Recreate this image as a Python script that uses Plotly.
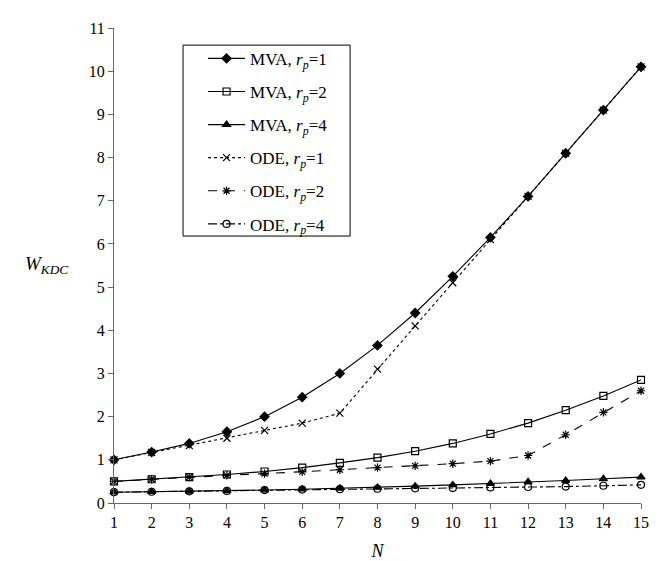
import plotly.graph_objects as go

N = list(range(1, 16))
mva_rp1 = [1.0, 1.18, 1.38, 1.65, 2.0, 2.45, 3.0, 3.65, 4.4, 5.25, 6.15, 7.1, 8.1, 9.1, 10.1]
mva_rp2 = [0.5, 0.55, 0.6, 0.66, 0.73, 0.82, 0.93, 1.05, 1.2, 1.38, 1.6, 1.85, 2.15, 2.48, 2.85]
mva_rp4 = [0.25, 0.26, 0.27, 0.28, 0.3, 0.32, 0.34, 0.36, 0.39, 0.42, 0.45, 0.49, 0.52, 0.56, 0.6]
ode_rp1 = [1.0, 1.17, 1.33, 1.5, 1.68, 1.85, 2.08, 3.1, 4.1, 5.1, 6.1, 7.1, 8.1, 9.1, 10.1]
ode_rp2 = [0.5, 0.55, 0.6, 0.64, 0.68, 0.72, 0.77, 0.82, 0.86, 0.91, 0.97, 1.1, 1.58, 2.1, 2.6]
ode_rp4 = [0.25, 0.26, 0.27, 0.28, 0.3, 0.31, 0.32, 0.33, 0.34, 0.35, 0.36, 0.37, 0.38, 0.4, 0.42]

series_names = ["MVA, <i>r<sub>p</sub></i>=1", "MVA, <i>r<sub>p</sub></i>=2", "MVA, <i>r<sub>p</sub></i>=4",
                "ODE, <i>r<sub>p</sub></i>=1", "ODE, <i>r<sub>p</sub></i>=2", "ODE, <i>r<sub>p</sub></i>=4"]
series_vals = [mva_rp1, mva_rp2, mva_rp4, ode_rp1, ode_rp2, ode_rp4]
styles = [
    dict(dash="solid", symbol="diamond", size=7),
    dict(dash="solid", symbol="square-open", size=7),
    dict(dash="solid", symbol="triangle-up", size=7),
    dict(dash="dot", symbol="x-thin-open", size=7),
    dict(dash="dash", symbol="asterisk-open", size=7),
    dict(dash="dashdot", symbol="circle-open", size=7),
]

fig = go.Figure()
for i, (name, vals, st) in enumerate(zip(series_names, series_vals, styles)):
    fig.add_trace(go.Scatter(
        x=N, y=vals, name=name, mode="lines+markers", legendgroup=f"g{i}",
        line=dict(color="black", width=1.1, dash=st["dash"]),
        marker=dict(symbol=st["symbol"], size=st["size"], color="black",
                    line=dict(color="black", width=1.2)),
        cliponaxis=False,
    ))

font = "Times New Roman, Liberation Serif, serif"
fig.update_layout(
    width=667, height=561,
    margin=dict(l=106, r=34, t=20, b=66),
    plot_bgcolor="white", paper_bgcolor="white",
    font=dict(family=font, size=16, color="black"),
    showlegend=True,
    legend=dict(x=0.169, y=0.973, xanchor="left", yanchor="top",
                borderwidth=0, bgcolor="rgba(0,0,0,0)",
                font=dict(family=font, size=17, color="black"),
                tracegroupgap=8, itemwidth=37),
    shapes=[dict(type="rect", xref="paper", yref="paper", x0=0.131, x1=0.448, y0=0.562, y1=0.964,
                 line=dict(color="black", width=1), fillcolor="white", layer="below")],
    xaxis=dict(range=[1, 15], dtick=1, tick0=1, showline=True, linecolor="#666", linewidth=1,
               ticks="outside", ticklen=5, tickcolor="#666", showgrid=False, zeroline=False,
               title=dict(text="<i>N</i>", font=dict(family=font, size=18), standoff=14)),
    yaxis=dict(range=[0, 11], dtick=1, tick0=0, showline=True, linecolor="#666", linewidth=1,
               ticks="outside", ticklen=5, tickcolor="#666", showgrid=False, zeroline=False),
    annotations=[dict(text="<i>W<sub>KDC</sub></i>", xref="paper", yref="paper",
                      x=-0.129, y=0.501, xanchor="center", yanchor="middle",
                      showarrow=False, font=dict(family=font, size=19))],
)

fig.write_html("out.html")
